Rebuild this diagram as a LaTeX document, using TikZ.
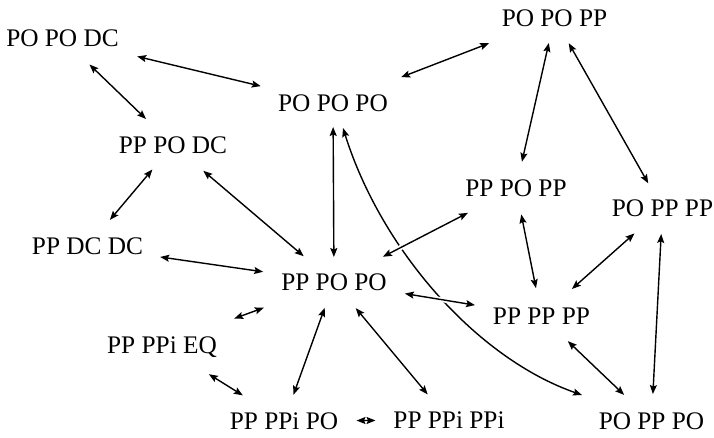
\documentclass[tikz,border=0pt]{standalone}
\usepackage{fontspec}
\setmainfont{Liberation Serif}
\usetikzlibrary{arrows.meta,calc}

% Undirected transitions drawn as double-headed arrows between label centres,
% trimmed by a per-edge amount on each side.
\newcommand\pairlink[5][]{%
  \draw[link,#1,shorten <=#4pt,shorten >=#5pt] (#2.center) -- (#3.center);}

\begin{document}
\begin{tikzpicture}[x=1pt,y=-1pt,
  st/.style={font=\fontsize{25.3}{30}\selectfont,inner sep=0pt,
             text height=16.7pt,text depth=0pt},
  link/.style={<->,>={Stealth[length=9pt,width=7pt,inset=1.6pt]},
               line width=1.4pt},
  halo/.style={preaction={draw=white,-,line width=5pt}}]
\useasboundingbox (0,0) rectangle (714,437);

% states
\node[st] (A) at (62.5,38.5) {PO PO DC};
\node[st] (B) at (554.5,18)  {PO PO PP};
\node[st] (C) at (333,103.5) {PO PO PO};
\node[st] (D) at (173,145)   {PP PO DC};
\node[st] (E) at (87.5,246.5){PP DC DC};
\node[st] (F) at (334,282)   {PP PO PO};
\node[st] (G) at (516,188)   {PP PO PP};
\node[st] (H) at (662.5,208.5){PO PP PP};
\node[st] (I) at (541.5,316) {PP PP PP};
\node[st] (J) at (651.5,421) {PO PP PO};
\node[st] (K) at (162,345)   {PP PPi EQ};
\node[st] (L) at (284,421)   {PP PPi PO};
\node[st] (M) at (449,420)   {PP PPi PPi};

% long curved transition, drawn first so crossing edges cut it
\coordinate (cs) at ($(C.center)+(10,24.5)$);
\coordinate (ce) at ($(J.center)+(-69.5,-26)$);
\draw[link] (cs) .. controls (381,249) and (476,358) .. (ce);

% straight transitions
\pairlink{A}{C}{76.8}{74.3}
\pairlink{A}{D}{37.5}{37.5}
\pairlink{C}{B}{73}{70.1}
\pairlink{B}{G}{25.6}{26.9}
\pairlink{B}{H}{28.9}{28.9}
\pairlink{D}{E}{32}{34.8}
\pairlink{D}{F}{39.8}{39.8}
\pairlink{E}{F}{73.4}{71.6}
\pairlink{C}{F}{23.5}{25}
\pairlink[halo]{G}{F}{54.1}{55}
\pairlink[halo]{F}{I}{71.8}{67.4}
\pairlink{G}{I}{26.9}{28.4}
\pairlink{H}{I}{37.5}{40.7}
\pairlink{H}{J}{25.5}{27}
\pairlink{I}{J}{36.4}{37.8}
\pairlink{F}{K}{74.7}{76.9}
\pairlink{K}{L}{55.2}{48.5}
\pairlink{F}{L}{27.5}{27.9}
\pairlink{F}{M}{34}{33.3}
\pairlink{L}{M}{72.5}{73.5}
\end{tikzpicture}
\end{document}
